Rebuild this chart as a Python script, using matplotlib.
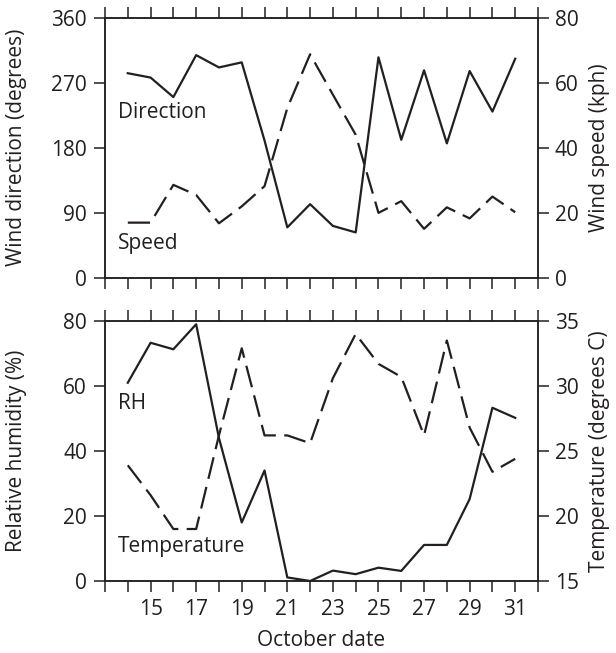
import matplotlib
matplotlib.use("Agg")
import matplotlib.pyplot as plt

plt.rcParams['font.family'] = ['Open Sans', 'DejaVu Sans']
plt.rcParams['lines.scale_dashes'] = False

days = list(range(14, 32))
wind_direction = [283, 277, 250, 308, 291, 298, 190, 70, 102, 72, 63, 305, 191, 287, 186, 286, 230, 303]
wind_speed = [17, 17, 28.6, 25.5, 16.8, 22, 28.2, 52.2, 68.7, 56.3, 44, 20, 23.6, 15.1, 21.7, 18.3, 25, 20.2]
rel_humidity = [61, 73.3, 71.3, 79, 44, 18, 34, 1.1, 0, 3.2, 2.1, 4.1, 3.1, 11.1, 11.1, 25.2, 53.3, 50.2]
temperature = [23.9, 21.6, 19.0, 19.0, 26.2, 32.9, 26.2, 26.2, 25.6, 30.6, 34.0, 31.7, 30.7, 26.2, 33.5, 26.8, 23.4, 24.4]

x_ticklabels = ['15', '17', '19', '21', '23', '25', '27', '29', '31']
dir_ticks = [0, 90, 180, 270, 360]
speed_ticks = [0, 20, 40, 60, 80]
rh_ticks = [0, 20, 40, 60, 80]
temp_ticks = [15, 20, 25, 30, 35]

INK = '#231f20'
FS = 15
LW = 1.6
DASH = (16, 6)

fig = plt.figure(figsize=(6.16, 6.53), dpi=100)
L, R = 105 / 616, 538 / 616
ax1 = fig.add_axes([L, 1 - 278 / 653, R - L, (278 - 17.5) / 653])
ax3 = fig.add_axes([L, 1 - 581 / 653, R - L, (581 - 321) / 653])


def style(ax, show_xlabels):
    for s in ax.spines.values():
        s.set_linewidth(1.1)
        s.set_color(INK)
    ax.set_xlim(13, 32)
    ax.set_xticks(range(13, 33))
    if show_xlabels:
        labels = [str(d) if str(d) in x_ticklabels else '' for d in range(13, 33)]
        ax.set_xticklabels(labels)
    else:
        ax.set_xticklabels([])
    ax.tick_params(axis='x', which='both', direction='out', length=8, width=1.1,
                   color=INK, top=True, bottom=True, labelsize=FS, labelcolor=INK, pad=5)
    ax.tick_params(axis='y', direction='out', length=8, width=1.1, color=INK,
                   labelsize=FS, labelcolor=INK, pad=5)


def style_twin(ax):
    for s in ax.spines.values():
        s.set_linewidth(1.1)
        s.set_color(INK)
    ax.tick_params(axis='y', direction='out', length=8, width=1.1, color=INK,
                   labelsize=FS, labelcolor=INK, pad=4)


LEFT_LABEL_X = (27 - 105) / 433
RIGHT_LABEL_X = (589 - 105) / 433

# Top panel
style(ax1, False)
ax1.set_ylim(0, 360)
ax1.set_yticks(dir_ticks)
ax1.plot(days, wind_direction, color=INK, lw=LW)
ax1.set_ylabel('Wind direction (degrees)', fontsize=FS, color=INK)
ax1.yaxis.set_label_coords(LEFT_LABEL_X, 0.5)
ax2 = ax1.twinx()
ax2.set_ylim(0, 80)
ax2.set_yticks(speed_ticks)
ax2.plot(days, wind_speed, color=INK, lw=LW, dashes=DASH)
style_twin(ax2)
ax2.set_ylabel('Wind speed (kph)', fontsize=FS, color=INK)
ax2.yaxis.set_label_coords(RIGHT_LABEL_X, 0.5)
ax1.text(13.55, 229, 'Direction', fontsize=FS, color=INK, va='center', ha='left')
ax1.text(13.55, 47, 'Speed', fontsize=FS, color=INK, va='center', ha='left')

# Bottom panel
style(ax3, True)
ax3.set_ylim(0, 80)
ax3.set_yticks(rh_ticks)
ax3.plot(days, rel_humidity, color=INK, lw=LW)
ax3.set_ylabel('Relative humidity (%)', fontsize=FS, color=INK)
ax3.yaxis.set_label_coords(LEFT_LABEL_X, 0.5)
ax3.set_xlabel('October date', fontsize=FS, color=INK, labelpad=7)
ax4 = ax3.twinx()
ax4.set_ylim(15, 35)
ax4.set_yticks(temp_ticks)
ax4.plot(days, temperature, color=INK, lw=LW, dashes=DASH)
style_twin(ax4)
ax4.set_ylabel('Temperature (degrees C)', fontsize=FS, color=INK)
ax4.yaxis.set_label_coords(RIGHT_LABEL_X, 0.5)
ax3.text(13.55, 54.5, 'RH', fontsize=FS, color=INK, va='center', ha='left')
ax3.text(13.55, 10.5, 'Temperature', fontsize=FS, color=INK, va='center', ha='left')

fig.savefig('out.png', dpi=100)
